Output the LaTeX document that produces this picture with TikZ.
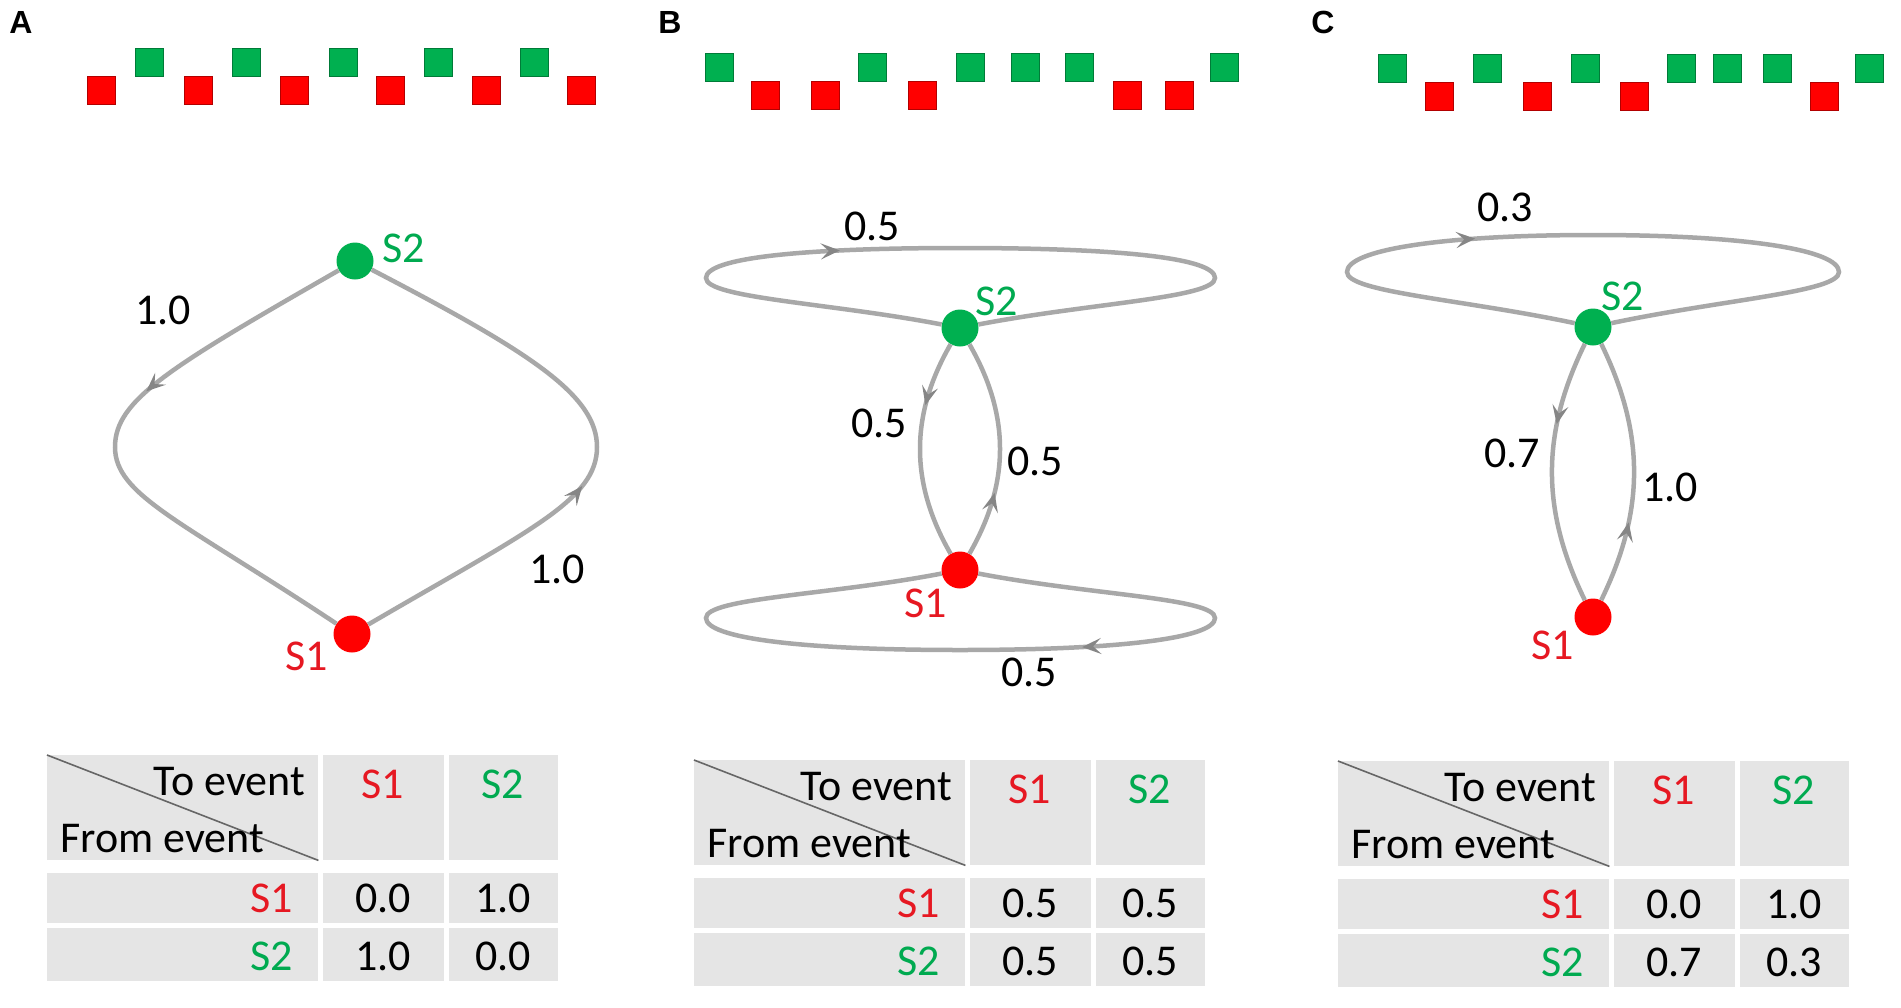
\documentclass[tikz,border=0pt]{standalone}
\usepackage{fontspec}
\setmainfont{Carlito}
\newfontfamily\panelfont{Liberation Sans}
\usetikzlibrary{arrows.meta,decorations.markings}

\definecolor{evred}{RGB}{255,0,0}
\definecolor{evgreen}{RGB}{0,176,80}
\definecolor{txtred}{RGB}{230,24,34}
\definecolor{txtgreen}{RGB}{0,170,80}
\definecolor{edgegray}{RGB}{168,168,168}
\definecolor{cellgray}{RGB}{229,229,229}

% transition table: prefix, x, y, then the four entries
\newcommand{\probtable}[7]{%
  \begin{scope}[shift={(#2,#3)}]
    \node[cell, minimum width=271pt, minimum height=105pt] (#1h0) at (0,0) {};
    \node[cell, minimum width=121pt, minimum height=105pt] (#1h1) at (276,0) {};
    \node[cell, minimum width=109pt, minimum height=105pt] (#1h2) at (402,0) {};
    \node[cell, minimum width=271pt, minimum height=50pt] (#1r10) at (0,118) {};
    \node[cell, minimum width=121pt, minimum height=50pt] (#1r11) at (276,118) {};
    \node[cell, minimum width=109pt, minimum height=50pt] (#1r12) at (402,118) {};
    \node[cell, minimum width=271pt, minimum height=53pt] (#1r20) at (0,173) {};
    \node[cell, minimum width=121pt, minimum height=53pt] (#1r21) at (276,173) {};
    \node[cell, minimum width=109pt, minimum height=53pt] (#1r22) at (402,173) {};
    \draw[line width=1.6pt, gray!80!black] (#1h0.north west) -- (#1h0.south east);
    \node[anchor=base east] (#1to) at (258,40) {To event};
    \node[anchor=base west] (#1from) at (13,97) {From event};
    \node[anchor=base, text=txtred] (#1colA) at (336,43) {S1};
    \node[anchor=base, text=txtgreen] (#1colB) at (456,43) {S2};
    \node[anchor=base east, text=txtred] (#1rowA) at (246,157) {S1};
    \node[anchor=base east, text=txtgreen] (#1rowB) at (246,215) {S2};
    \node[anchor=base] (#1v11) at (336,157) {#4};
    \node[anchor=base] (#1v12) at (456,157) {#5};
    \node[anchor=base] (#1v21) at (336,215) {#6};
    \node[anchor=base] (#1v22) at (456,215) {#7};
  \end{scope}}

\begin{document}
\begin{tikzpicture}[
    x=1pt, y=-1pt,
    every node/.style={inner sep=0pt, font=\fontsize{44}{50}\selectfont},
    state/.style={circle, minimum size=37pt},
    edge/.style={draw=edgegray, line width=4.5pt},
    mid/.style={postaction={decorate}, decoration={markings,
        mark=at position #1 with {\arrow{Stealth[length=19pt, width=16pt, inset=8pt, color=edgegray!80!black]}}}},
    gsq/.style={fill=evgreen, draw=evgreen!70!black, line width=0.8pt},
    rsq/.style={fill=evred, draw=evred!70!black, line width=0.8pt},
    panel/.style={font=\panelfont\bfseries\fontsize{32}{36}\selectfont},
    cell/.style={fill=cellgray, anchor=north west},
  ]
  \useasboundingbox (0,0) rectangle (1901,1007);
  \fill[white] (0,0) rectangle (1901,1007);

  % panel letters
  \node[panel] (pA) at (21,22) {A};
  \node[panel] (pB) at (670,22) {B};
  \node[panel] (pC) at (1323,22) {C};

  % event sequences
  \foreach \x in {135,232,329,424,520} \draw[gsq] (\x,48) rectangle ++(28,28);
  \foreach \x in {87,184,280,376,472,567} \draw[rsq] (\x,76) rectangle ++(28,28);
  \foreach \x in {705,858,956,1011,1065,1210} \draw[gsq] (\x,53) rectangle ++(28,28);
  \foreach \x in {751,811,908,1113,1165} \draw[rsq] (\x,81) rectangle ++(28,28);
  \foreach \x in {1378,1473,1571,1667,1713,1763,1855} \draw[gsq] (\x,54) rectangle ++(28,28);
  \foreach \x in {1425,1523,1620,1810} \draw[rsq] (\x,82) rectangle ++(28,28);

  % A
  \node[state, fill=evgreen] (aS2) at (355,261) {};
  \node[state, fill=evred] (aS1) at (352,634) {};
  \node[text=txtgreen] (aS2txt) at (404,248) {S2};
  \node[text=txtred] (aS1txt) at (307,656) {S1};
  \draw[edge, mid=0.39] (aS2) .. controls (170,367) and (115,400) .. (115,447)
    .. controls (115,495) and (180,520) .. (aS1);
  \draw[edge, mid=0.43] (aS1) .. controls (530,530) and (597,500) .. (597,447)
    .. controls (597,395) and (530,352) .. (aS2);
  \node (aP21) at (163,310) {1.0};
  \node (aP12) at (557,569) {1.0};

  % B
  \node[state, fill=evgreen] (bS2) at (960,328) {};
  \node[state, fill=evred] (bS1) at (960,570) {};
  \node[text=txtgreen] (bS2txt) at (997,301) {S2};
  \node[text=txtred] (bS1txt) at (926,603) {S1};
  \draw[edge, mid=0.38] (bS2) .. controls (830,303) and (706,298) .. (706,278)
    .. controls (706,258) and (800,248) .. (960,248)
    .. controls (1120,248) and (1215,258) .. (1215,278)
    .. controls (1215,298) and (1090,303) .. (bS2);
  \draw[edge, mid=0.38] (bS1) .. controls (1090,595) and (1215,598) .. (1215,618)
    .. controls (1215,638) and (1120,650) .. (960,650)
    .. controls (800,650) and (706,638) .. (706,618)
    .. controls (706,598) and (830,595) .. (bS1);
  \draw[edge, mid=0.3] (bS2) to[bend right=30] (bS1);
  \draw[edge, mid=0.3] (bS1) to[bend right=30] (bS2);
  \node (bP22) at (872,226) {0.5};
  \node (bP21) at (879,423) {0.5};
  \node (bP12) at (1035,461) {0.5};
  \node (bP11) at (1029,672) {0.5};

  % C
  \node[state, fill=evgreen] (cS2) at (1593,327) {};
  \node[state, fill=evred] (cS1) at (1593,617) {};
  \node[text=txtgreen] (cS2txt) at (1623,296) {S2};
  \node[text=txtred] (cS1txt) at (1553,645) {S1};
  \draw[edge, mid=0.38] (cS2) .. controls (1460,299) and (1347,292) .. (1347,272)
    .. controls (1347,250) and (1440,235) .. (1593,235)
    .. controls (1746,235) and (1839,250) .. (1839,272)
    .. controls (1839,292) and (1726,299) .. (cS2);
  \draw[edge, mid=0.32] (cS2) to[bend right=26] (cS1);
  \draw[edge, mid=0.31] (cS1) to[bend right=26] (cS2);
  \node (cP22) at (1505,207) {0.3};
  \node (cP21) at (1512,453) {0.7};
  \node (cP12) at (1670,487) {1.0};

  % transition tables
  \probtable{ta}{47}{755}{0.0}{1.0}{1.0}{0.0}
  \probtable{tb}{694}{760}{0.5}{0.5}{0.5}{0.5}
  \probtable{tc}{1338}{761}{0.0}{1.0}{0.7}{0.3}
\end{tikzpicture}
\end{document}
